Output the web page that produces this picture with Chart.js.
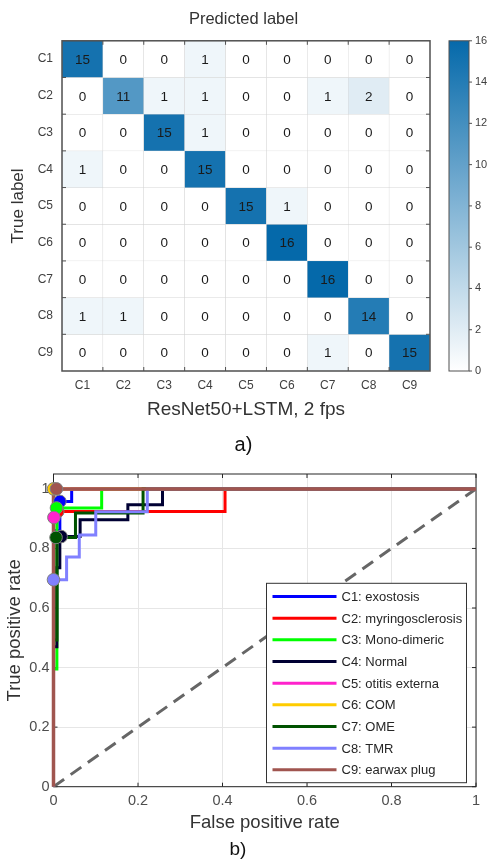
<!DOCTYPE html>
<html>
<head>
<meta charset="utf-8">
<script src="https://cdn.jsdelivr.net/npm/chart.js@4.4.1/dist/chart.umd.min.js"></script>
<style>
  body { margin: 0; background: #fff; }
  canvas { display: block; }
</style>
</head>
<body>
<canvas id="cm" width="487" height="460"></canvas>
<canvas id="roc" width="487" height="401"></canvas>
<script>
const FONT = '"Liberation Sans", Arial, sans-serif';

// --- confusion matrix (a) ---
const classes = ['C1', 'C2', 'C3', 'C4', 'C5', 'C6', 'C7', 'C8', 'C9'];
const confusion = [
  [15, 0, 0, 1, 0, 0, 0, 0, 0],
  [0, 11, 1, 1, 0, 0, 1, 2, 0],
  [0, 0, 15, 1, 0, 0, 0, 0, 0],
  [1, 0, 0, 15, 0, 0, 0, 0, 0],
  [0, 0, 0, 0, 15, 1, 0, 0, 0],
  [0, 0, 0, 0, 0, 16, 0, 0, 0],
  [0, 0, 0, 0, 0, 0, 16, 0, 0],
  [1, 1, 0, 0, 0, 0, 0, 14, 0],
  [0, 0, 0, 0, 0, 0, 1, 0, 15]
];
const cbMax = 16;

// --- ROC curves (b) ---
const rocNames = ['C1: exostosis', 'C2: myringosclerosis', 'C3: Mono-dimeric', 'C4: Normal',
  'C5: otitis externa', 'C6: COM', 'C7: OME', 'C8: TMR', 'C9: earwax plug'];
const rocColors = ['#0000ff', '#ff0000', '#00ff00', '#000033', '#ff22cc', '#ffcc00', '#005200', '#8080ff', '#a0554f'];

const fprC1 = [0, 0, 0.015, 0.015, 0.043, 0.043, 1];
const tprC1 = [0, 0.86, 0.86, 0.958, 0.958, 1, 1];
const fprC2 = [0, 0, 0.406, 0.406, 1];
const tprC2 = [0, 0.924, 0.924, 1, 1];
const fprC3 = [0, 0, 0.008, 0.008, 0.114, 0.114, 1];
const tprC3 = [0, 0.395, 0.395, 0.936, 0.936, 1, 1];
const fprC4 = [0, 0, 0.008, 0.008, 0.015, 0.015, 0.063, 0.063, 0.176, 0.176, 0.258, 0.258, 1];
const tprC4 = [0, 0.47, 0.47, 0.735, 0.735, 0.84, 0.84, 0.896, 0.896, 0.947, 0.947, 1, 1];
const fprC5 = [0, 0, 1];
const tprC5 = [0, 1, 1];
const fprC6 = [0, 0, 1];
const tprC6 = [0, 1, 1];
const fprC7 = [0, 0, 0.008, 0.008, 0.052, 0.052, 0.212, 0.212, 1];
const tprC7 = [0, 0.493, 0.493, 0.837, 0.837, 0.919, 0.919, 1, 1];
const fprC8 = [0, 0, 0.031, 0.031, 0.061, 0.061, 0.1, 0.1, 0.222, 0.222, 1];
const tprC8 = [0, 0.695, 0.695, 0.771, 0.771, 0.845, 0.845, 0.923, 0.923, 1, 1];
const fprC9 = [0, 0, 1];
const tprC9 = [0, 1, 1];

// operating points (circles)
const opFpr = [0.015, 0.01, 0.007, 0.018, 0.001, 0, 0.006, 0, 0.007];
const opTpr = [0.958, 0.924, 0.936, 0.84, 0.904, 1, 0.837, 0.695, 1];

const chanceFpr = [0, 1];
const chanceTpr = [0, 1];

const rocFpr = [fprC1, fprC2, fprC3, fprC4, fprC5, fprC6, fprC7, fprC8, fprC9];
const rocTpr = [tprC1, tprC2, tprC3, tprC4, tprC5, tprC6, tprC7, tprC8, tprC9];

function cellColor(v) {
  const t = v / cbMax;
  const r = Math.round(255 + (5 - 255) * t);
  const g = Math.round(255 + (105 - 255) * t);
  const b = Math.round(255 + (170 - 255) * t);
  return `rgb(${r},${g},${b})`;
}

const fmt = v => String(Number(v.toFixed(2)));

// numbers in the cells
const cellText = {
  id: 'cellText',
  afterDatasetsDraw(chart) {
    const ctx = chart.ctx;
    ctx.save();
    ctx.font = `13.5px ${FONT}`;
    ctx.fillStyle = '#1a1a1a';
    ctx.textAlign = 'center';
    ctx.textBaseline = 'middle';
    chart.data.datasets.forEach((ds, i) => {
      chart.getDatasetMeta(i).data.forEach((bar, j) => {
        ctx.fillText(String(confusion[i][j]), bar.x, (bar.y + bar.base) / 2 + 1);
      });
    });
    ctx.restore();
  }
};

// box + ticks around the matrix, and the colorbar
const cmFrame = {
  id: 'cmFrame',
  afterDraw(chart) {
    const { ctx, chartArea: a, scales } = chart;
    ctx.save();
    ctx.strokeStyle = '#505050';
    ctx.lineWidth = 1;
    ctx.beginPath();
    for (let j = 1; j < classes.length; j++) {
      const x = (scales.x.getPixelForValue(j - 1) + scales.x.getPixelForValue(j)) / 2;
      ctx.moveTo(x, a.top); ctx.lineTo(x, a.top + 4);
      ctx.moveTo(x, a.bottom); ctx.lineTo(x, a.bottom - 4);
      const y = scales.y.getPixelForValue(j);
      ctx.moveTo(a.left, y); ctx.lineTo(a.left + 4, y);
      ctx.moveTo(a.right, y); ctx.lineTo(a.right - 4, y);
    }
    ctx.stroke();
    ctx.lineWidth = 1.5;
    ctx.strokeRect(a.left, a.top, a.right - a.left, a.bottom - a.top);

    // colorbar
    const cb = scales.cb;
    const x0 = a.right + 19, w = 20;
    const top = cb.getPixelForValue(cbMax), bottom = cb.getPixelForValue(0);
    const grad = ctx.createLinearGradient(0, bottom, 0, top);
    for (let v = 0; v <= cbMax; v += 2) grad.addColorStop(v / cbMax, cellColor(v));
    ctx.fillStyle = grad;
    ctx.fillRect(x0, top, w, bottom - top);
    ctx.lineWidth = 1;
    ctx.strokeStyle = '#505050';
    ctx.strokeRect(x0, top, w, bottom - top);
    ctx.beginPath();
    cb.ticks.forEach(t => {
      const y = cb.getPixelForValue(t.value);
      ctx.moveTo(x0 + w, y); ctx.lineTo(x0 + w + 3, y);
    });
    ctx.stroke();
    ctx.restore();
  }
};

new Chart(document.getElementById('cm'), {
  type: 'bar',
  data: {
    labels: classes,
    datasets: confusion.map((row, i) => ({
      label: classes[i],
      data: row.map(() => 1),
      backgroundColor: row.map(cellColor),
      borderColor: '#d4d4d4',
      borderWidth: 0.5,
      borderSkipped: false,
      barPercentage: 1,
      categoryPercentage: 1
    }))
  },
  options: {
    responsive: false,
    animation: false,
    layout: { padding: { top: 10, left: 0, right: 0, bottom: 0 } },
    plugins: {
      legend: { display: false },
      tooltip: { enabled: false },
      title: {
        display: true, text: 'Predicted label', color: '#333',
        font: { family: FONT, size: 16.5, weight: 'normal' },
        padding: { top: 0, bottom: 11 }
      },
      subtitle: {
        display: true, position: 'bottom', text: 'a)', color: '#111',
        font: { family: FONT, size: 20 },
        padding: { top: 0, bottom: 3 }
      }
    },
    scales: {
      x: {
        stacked: true,
        grid: { display: false, drawTicks: false },
        border: { display: false },
        ticks: { color: '#404040', font: { family: FONT, size: 12 }, padding: 7 },
        title: {
          display: true, text: 'ResNet50+LSTM, 2 fps', color: '#333',
          font: { family: FONT, size: 19 }, padding: { top: 0, bottom: 11.6 }
        },
        afterFit: s => { s.height = 62; s.paddingLeft = 0; s.paddingRight = 0; }
      },
      y: {
        stacked: true, min: 0, max: 9, reverse: true,
        afterBuildTicks: s => { s.ticks = classes.map((_, i) => ({ value: i + 0.5 })); },
        grid: { display: false, drawTicks: false },
        border: { display: false },
        ticks: {
          color: '#404040', font: { family: FONT, size: 12 }, padding: 9,
          callback: v => classes[Math.floor(v)]
        },
        title: {
          display: true, text: 'True label', color: '#333',
          font: { family: FONT, size: 17 }, padding: { top: 8, bottom: 0 }
        },
        afterFit: s => { s.width = 62; s.paddingTop = 0; s.paddingBottom = 0; }
      },
      cb: {
        position: 'right', min: 0, max: cbMax,
        grid: { display: false, drawTicks: false },
        border: { display: false },
        ticks: { stepSize: 2, color: '#404040', font: { family: FONT, size: 11 }, padding: 45 },
        afterFit: s => { s.width = 57; s.paddingTop = 0; s.paddingBottom = 0; }
      }
    }
  },
  plugins: [cellText, cmFrame]
});

// --- ROC chart ---
const rocFrame = {
  id: 'rocFrame',
  beforeDatasetsDraw(chart) {
    const { ctx, chartArea: a, scales } = chart;
    ctx.save();
    ctx.strokeStyle = '#262626';
    ctx.lineWidth = 1;
    ctx.strokeRect(a.left, a.top, a.right - a.left, a.bottom - a.top);
    ctx.beginPath();
    scales.x.ticks.forEach(t => {
      const x = scales.x.getPixelForValue(t.value);
      ctx.moveTo(x, a.top); ctx.lineTo(x, a.top + 4);
      ctx.moveTo(x, a.bottom); ctx.lineTo(x, a.bottom - 4);
    });
    scales.y.ticks.forEach(t => {
      const y = scales.y.getPixelForValue(t.value);
      ctx.moveTo(a.left, y); ctx.lineTo(a.left + 4, y);
      ctx.moveTo(a.right, y); ctx.lineTo(a.right - 4, y);
    });
    ctx.stroke();
    ctx.restore();
  }
};

const rocLegend = {
  id: 'rocLegend',
  afterDatasetsDraw(chart) {
    const { ctx, chartArea: a } = chart;
    const left = a.right - 209.5, top = a.bottom - 203.4, w = 200, h = 199.4;
    ctx.save();
    ctx.fillStyle = '#fff';
    ctx.fillRect(left, top, w, h);
    ctx.strokeStyle = '#333';
    ctx.lineWidth = 1;
    ctx.strokeRect(left, top, w, h);
    ctx.font = `13px ${FONT}`;
    ctx.textBaseline = 'middle';
    rocNames.forEach((name, i) => {
      const y = top + 13.2 + i * 21.67;
      ctx.strokeStyle = rocColors[i];
      ctx.lineWidth = 3;
      ctx.beginPath();
      ctx.moveTo(left + 6, y);
      ctx.lineTo(left + 70, y);
      ctx.stroke();
      ctx.fillStyle = '#262626';
      ctx.fillText(name, left + 75, y + 1);
    });
    ctx.restore();
  }
};

const rocDatasets = [{
  label: 'chance',
  data: chanceFpr.map((x, k) => ({ x, y: chanceTpr[k] })),
  borderColor: '#666666',
  borderWidth: 3,
  borderDash: [13, 8],
  pointRadius: 0,
  order: 100
}];
rocNames.forEach((name, i) => {
  rocDatasets.push({
    label: name,
    data: rocFpr[i].map((x, k) => ({ x, y: rocTpr[i][k] })),
    borderColor: rocColors[i],
    borderWidth: i === 8 ? 3.5 : 3,
    pointRadius: 0,
    tension: 0,
    clip: false,
    order: 50 - i
  });
});
rocNames.forEach((name, i) => {
  rocDatasets.push({
    label: name + ' point',
    data: [{ x: opFpr[i], y: opTpr[i] }],
    showLine: false,
    pointRadius: 6.3,
    pointBackgroundColor: rocColors[i],
    pointBorderColor: '#7f7f7f',
    pointBorderWidth: 1,
    clip: false,
    order: 20 - i
  });
});

new Chart(document.getElementById('roc'), {
  type: 'line',
  data: { datasets: rocDatasets },
  options: {
    responsive: false,
    animation: false,
    layout: { padding: { top: 14, right: 11, left: 0, bottom: 0 } },
    plugins: {
      legend: { display: false },
      tooltip: { enabled: false },
      subtitle: {
        display: true, position: 'bottom', text: 'b)', color: '#111',
        font: { family: FONT, size: 19 }, padding: 0
      }
    },
    scales: {
      x: {
        type: 'linear', min: 0, max: 1,
        grid: { color: '#e6e6e6', drawTicks: false },
        border: { display: false },
        ticks: { stepSize: 0.2, color: '#4d4d4d', font: { family: FONT, size: 14.5 }, padding: 6, callback: fmt },
        title: {
          display: true, text: 'False positive rate', color: '#333',
          font: { family: FONT, size: 18.5 }, padding: { top: 0, bottom: 4.4 }
        },
        afterFit: s => { s.height = 51.5; s.paddingLeft = 0; s.paddingRight = 0; }
      },
      y: {
        type: 'linear', min: 0, max: 1.05,
        grid: { color: '#e6e6e6', drawTicks: false },
        border: { display: false },
        ticks: { stepSize: 0.2, includeBounds: false, color: '#4d4d4d', font: { family: FONT, size: 14.5 }, padding: 4, callback: fmt },
        title: {
          display: true, text: 'True positive rate', color: '#333',
          font: { family: FONT, size: 18.5 }, padding: { top: 4, bottom: 0 }
        },
        afterFit: s => { s.width = 53.5; s.paddingTop = 0; s.paddingBottom = 0; }
      }
    }
  },
  plugins: [rocFrame, rocLegend]
});
</script>
</body>
</html>
